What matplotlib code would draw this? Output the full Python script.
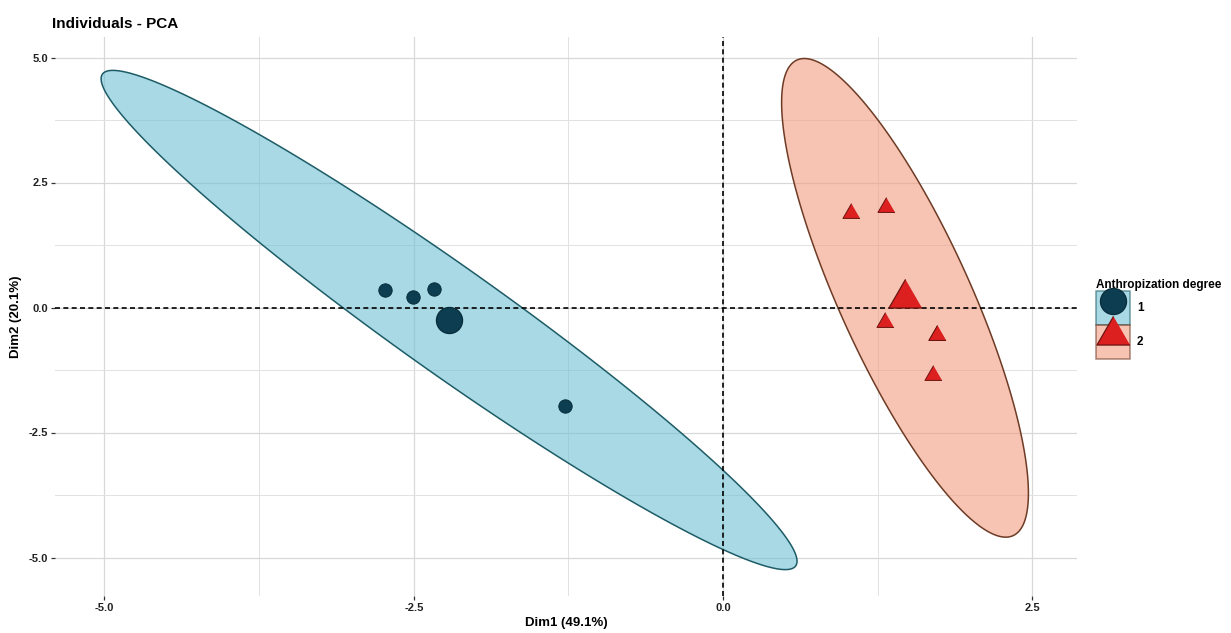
import numpy as np
import matplotlib
matplotlib.use('Agg')
import matplotlib.pyplot as plt
from matplotlib.lines import Line2D
from matplotlib.patches import Patch, Polygon
from matplotlib.ticker import MultipleLocator, FormatStrFormatter

# individual coordinates on the first two PCA dimensions
g1_dim1 = [-2.73, -2.51, -2.34, -1.28]
g1_dim2 = [0.36, 0.22, 0.38, -1.96]
g2_dim1 = [1.03, 1.32, 1.31, 1.73, 1.73, 1.70]
g2_dim2 = [1.89, 2.01, -0.29, -0.55, -0.55, -1.35]
groups = ['1', '2']
x_label = 'Dim1 (49.1%)'
y_label = 'Dim2 (20.1%)'

plt.rcParams['font.family'] = ['Liberation Sans', 'DejaVu Sans']
plt.rcParams['axes.unicode_minus'] = False

# fill, edge, marker face, marker edge, marker
styles = {
    '1': dict(fill='#6ec1d5', edge='#1d5c66', face='#0c3d50', medge='#082c3a',
              marker='o', small=9.6, big=18.8),
    '2': dict(fill='#f29d82', edge='#6e3b25', face='#dc1f1f', medge='#6a1410',
              marker=[(0, 1), (-0.866, -0.5), (0.866, -0.5)], small=14.2, big=27.5),
}


def norm_ellipse(x, y, level=0.95, segments=240):
    # same construction as ggplot's stat_ellipse(type = "norm")
    pts = np.column_stack([x, y])
    n = len(pts)
    center = pts.mean(axis=0)
    cov = np.cov(pts, rowvar=False)
    d = n - 1
    # F quantile with 2 numerator dof has a closed form
    fq = d / 2 * ((1 - level) ** (-2 / d) - 1)
    radius = np.sqrt(2 * fq)
    t = np.linspace(0, 2 * np.pi, segments)
    circle = np.column_stack([np.cos(t), np.sin(t)])
    chol = np.linalg.cholesky(cov)
    return center + radius * circle @ chol.T


fig = plt.figure(figsize=(12.31, 6.33), dpi=100)
ax = fig.add_axes([55 / 1231, 1 - 596 / 633, 1022 / 1231, 559 / 633])

data = {'1': (g1_dim1, g1_dim2), '2': (g2_dim1, g2_dim2)}
handles = []
for g in groups:
    xs, ys = data[g]
    st = styles[g]
    ell = norm_ellipse(xs, ys)
    ax.add_patch(Polygon(ell, closed=True, facecolor=st['fill'], alpha=0.6,
                         edgecolor='none', zorder=2))
    ax.add_patch(Polygon(ell, closed=True, facecolor='none',
                         edgecolor=st['edge'], lw=1.1, zorder=2.1))
    ax.scatter(xs, ys, s=st['small'] ** 2, marker=st['marker'], c=st['face'],
               edgecolors=st['medge'], linewidths=0.7, zorder=4)
    ax.scatter([np.mean(xs)], [np.mean(ys)], s=st['big'] ** 2, marker=st['marker'],
               c=st['face'], edgecolors=st['medge'], linewidths=0.9, zorder=4)
    box = Patch(facecolor=st['fill'], alpha=0.6, edgecolor=st['edge'], lw=1.1)
    pt = Line2D([], [], ls='none', marker=st['marker'], ms=st['big'],
                mfc=st['face'], mec=st['medge'], mew=0.9)
    handles.append((box, pt))

ax.axhline(0, color='black', ls=(0, (3, 2)), lw=1.2, zorder=3)
ax.axvline(0, color='black', ls=(0, (3, 2)), lw=1.2, zorder=3)

ax.set_xlim(-5.40, 2.86)
ax.set_ylim(-5.77, 5.41)
for axis in (ax.xaxis, ax.yaxis):
    axis.set_major_locator(MultipleLocator(2.5))
    axis.set_minor_locator(MultipleLocator(1.25))
    axis.set_major_formatter(FormatStrFormatter('%.1f'))
ax.grid(which='major', color='#d8d8d8', lw=0.9, zorder=0)
ax.grid(which='minor', color='#e2e2e2', lw=0.7, zorder=0)
ax.set_axisbelow(True)
for s in ax.spines.values():
    s.set_visible(False)
ax.tick_params(which='major', length=3, width=0.9, color='#333333',
               labelsize=8, labelcolor='#222222', pad=2)
ax.tick_params(which='minor', length=0)
for lab in ax.get_xticklabels() + ax.get_yticklabels():
    lab.set_fontweight('bold')

ax.set_xlabel(x_label, fontsize=9.5, fontweight='bold', labelpad=3)
ax.set_ylabel(y_label, fontsize=9.5, fontweight='bold', labelpad=5)
fig.text(52 / 1231, 1 - 28 / 633, 'Individuals - PCA', fontsize=11,
         fontweight='bold', va='baseline', ha='left')

leg = fig.legend(handles, groups, title='Anthropization degree',
                 loc='upper left', bbox_to_anchor=(1096 / 1231, 1 - 279 / 633),
                 frameon=False, fontsize=8.5, title_fontsize=8.5,
                 handlelength=2.88, handleheight=4.05, labelspacing=0,
                 handletextpad=0.6, borderpad=0, borderaxespad=0,
                 alignment='left')
leg.get_title().set_fontweight('bold')
for t in leg.get_texts():
    t.set_fontweight('bold')

fig.savefig('out.png', dpi=100)
